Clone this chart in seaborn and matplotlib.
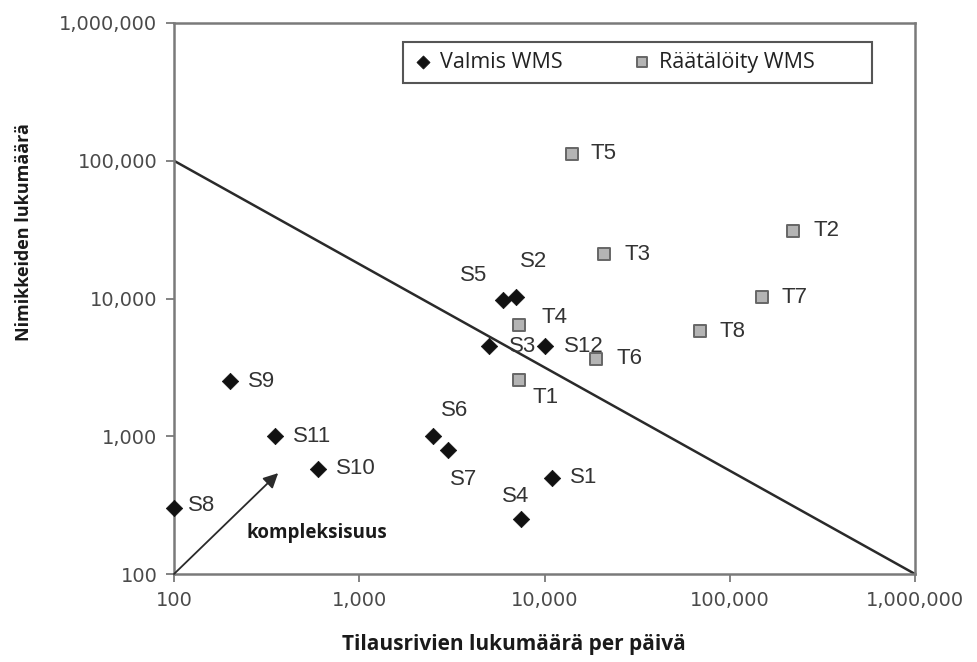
import matplotlib
matplotlib.use("Agg")
import matplotlib.pyplot as plt
import seaborn as sns
import pandas as pd
from matplotlib.patches import Rectangle
from matplotlib.ticker import FixedLocator, FuncFormatter, NullLocator

# ---- data ----
valmis_names = ["S1", "S2", "S3", "S4", "S5", "S6", "S7", "S8", "S9", "S10", "S11", "S12"]
valmis_x = [11000, 7000, 5000, 7500, 6000, 2500, 3000, 100, 200, 600, 350, 10000]
valmis_y = [500, 10200, 4500, 250, 9800, 1000, 800, 300, 2500, 580, 1000, 4500]

raat_names = ["T1", "T2", "T3", "T4", "T5", "T6", "T7", "T8"]
raat_x = [7300, 220000, 21000, 7300, 14000, 19000, 150000, 69000]
raat_y = [2550, 31000, 21000, 6400, 112000, 3650, 10200, 5800]

border_x = [100, 1000000]
border_y = [100000, 100]

ticks = [100, 1000, 10000, 100000, 1000000]
legend_labels = ["Valmis WMS", "Räätälöity WMS"]
x_label = "Tilausrivien lukumäärä per päivä"
y_label = "Nimikkeiden lukumäärä"
arrow_text = "kompleksisuus"

# label offsets in pixels (dx, dy) from marker
valmis_off = [(18, 0), (4, 36), (20, 0), (-19, 23), (-43, 24), (8, 26), (2, -30),
              (14, 3), (18, 0), (18, 0), (18, 0), (19, 0)]
raat_off = [(13, -17), (20, 0), (20, 0), (22, 8), (19, 0), (20, 0), (19, 0), (20, 0)]

sns.set_theme(style="white")
plt.rcParams["font.family"] = ["Liberation Sans", "DejaVu Sans"]

fig = plt.figure(figsize=(9.77, 6.62), dpi=100)
ax = fig.add_axes([174 / 977, 1 - 574 / 662, 741 / 977, 551 / 662])

df_v = pd.DataFrame({"x": valmis_x, "y": valmis_y, "name": valmis_names})
df_t = pd.DataFrame({"x": raat_x, "y": raat_y, "name": raat_names})

sns.lineplot(x=border_x, y=border_y, ax=ax, color="#2a2a2a", linewidth=1.8, zorder=2)

sns.scatterplot(data=df_v, x="x", y="y", ax=ax, marker="D", s=70, color="#111111",
                edgecolor="#111111", linewidth=0.5, label=legend_labels[0], zorder=4, clip_on=False)
sns.scatterplot(data=df_t, x="x", y="y", ax=ax, marker="s", s=75, color="#b4b4b4",
                edgecolor="#666666", linewidth=1.4, label=legend_labels[1], zorder=4, clip_on=False)

ax.set_xscale("log")
ax.set_yscale("log")
ax.set_xlim(100, 1000000)
ax.set_ylim(100, 1000000)

for n, x, y, (dx, dy) in zip(valmis_names, valmis_x, valmis_y, valmis_off):
    ax.annotate(n, (x, y), xytext=(dx, dy), textcoords="offset pixels",
                ha="left", va="center", fontsize=16, color="#333333", zorder=5)
for n, x, y, (dx, dy) in zip(raat_names, raat_x, raat_y, raat_off):
    ax.annotate(n, (x, y), xytext=(dx, dy), textcoords="offset pixels",
                ha="left", va="center", fontsize=16, color="#333333", zorder=5)

# complexity arrow
ax.annotate("", xy=(365, 540), xytext=(100, 100),
            arrowprops=dict(arrowstyle="-|>", color="#2a2a2a", lw=1.3,
                            mutation_scale=22, shrinkA=0, shrinkB=0))
ax.text(245, 198, arrow_text, fontsize=13.5, fontweight="bold", color="#1a1a1a",
        family=["Open Sans", "DejaVu Sans"], ha="left", va="center")

# axes styling
for side in ["left", "bottom", "top", "right"]:
    ax.spines[side].set_visible(True)
    ax.spines[side].set_color("#7a7a7a")
    ax.spines[side].set_linewidth(1.8)

ax.xaxis.set_major_locator(FixedLocator(ticks))
ax.yaxis.set_major_locator(FixedLocator(ticks))
ax.xaxis.set_minor_locator(NullLocator())
ax.yaxis.set_minor_locator(NullLocator())
fmt = FuncFormatter(lambda v, p: f"{int(round(v)):,}")
ax.xaxis.set_major_formatter(fmt)
ax.yaxis.set_major_formatter(fmt)
ax.tick_params(axis="both", which="major", direction="out", length=6, width=1.3,
               color="#7a7a7a", labelcolor="#4a4a4a", labelsize=14, pad=6,
               bottom=True, left=True, top=False, right=False)
for lab in ax.get_xticklabels() + ax.get_yticklabels():
    lab.set_family(["DejaVu Sans"])

ax.set_xlabel(x_label, fontsize=15, fontweight="bold", color="#1a1a1a",
              family=["Open Sans", "DejaVu Sans"])
ax.set_ylabel(y_label, fontsize=13, fontweight="bold", color="#1a1a1a",
              family=["Open Sans", "DejaVu Sans"])
ax.xaxis.set_label_coords(0.459, -0.108)
ax.yaxis.set_label_coords(-0.19, 0.62)

# legend: box drawn separately, entries placed inside
ax.add_patch(Rectangle((0.309, 0.891), 0.633, 0.0744, transform=ax.transAxes,
                       facecolor="white", edgecolor="#555555", linewidth=1.5, zorder=6))
leg = ax.legend(loc="center left", bbox_to_anchor=((412 - 174) / 741, (574 - 62.5) / 551),
                ncol=2, frameon=False, borderpad=0, borderaxespad=0,
                handlelength=1.0, handletextpad=0.3, columnspacing=3.2,
                markerscale=0.8, prop={"family": ["Open Sans", "DejaVu Sans"], "size": 15.5})
leg.set_zorder(7)
for t in leg.get_texts():
    t.set_color("#222222")

fig.savefig("out.png", dpi=100, facecolor="white")
